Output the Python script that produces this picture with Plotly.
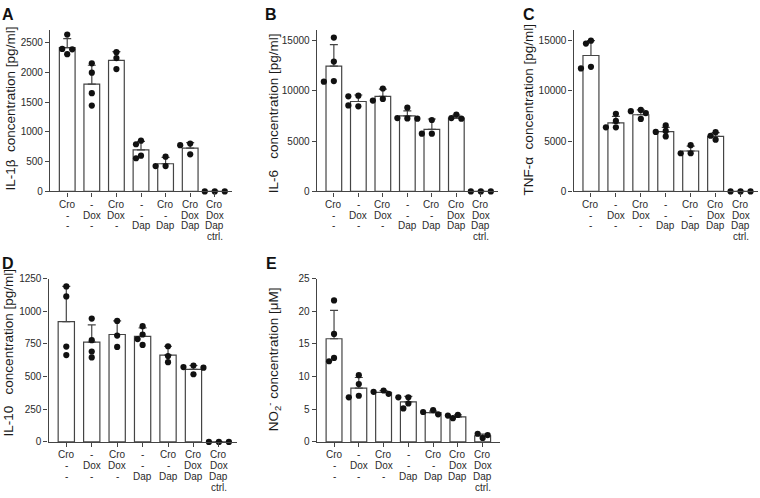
import plotly.graph_objects as go

# ---------------- data ----------------
CAT_LINE1 = ["Cro", "-", "Cro", "-", "Cro", "Cro", "Cro"]
CAT_LINE2 = ["-", "Dox", "Dox", "-", "-", "Dox", "Dox"]
CAT_LINE3 = ["-", "-", "-", "Dap", "Dap", "Dap", "Dap"]
CAT_LINE4 = ["", "", "", "", "", "", "ctrl."]

IL1B_MEAN = [2418, 1805, 2204, 700, 465, 727, 0]
IL1B_SD = [153, 317, 148, 142, 109, 93, 0]
IL1B_POINTS = [[2637, 2308, 2396, 2390], [2155, 1997, 1652, 1444], [2341, 2243, 2057],
               [853, 793, 602, 558], [585, 427, 427], [804, 777, 624], [0, 0, 0]]

IL6_MEAN = [12452, 8935, 9452, 7516, 6161, 7290, 0]
IL6_SD = [2129, 646, 709, 484, 1033, 291, 0]
IL6_POINTS = [[15290, 12903, 10968, 10903], [9516, 9452, 8452, 8548], [10226, 9194, 9032],
              [8323, 7258, 7290, 7226], [7097, 5742, 5742], [7645, 7290, 7226], [0, 0, 0]]

TNF_MEAN = [13505, 6817, 7621, 5949, 4019, 5466, 0]
TNF_SD = [1479, 643, 482, 418, 483, 386, 0]
TNF_POINTS = [[14984, 14695, 12379, 12219], [7717, 7010, 6367, 6367], [8103, 7974, 7781, 7203],
              [6560, 6013, 5916, 5466], [4598, 3794, 3794], [5884, 5531, 5145], [0, 0, 0]]

IL10_MEAN = [921, 764, 822, 807, 665, 555, 0]
IL10_SD = [269, 132, 104, 65, 67, 30, 0]
IL10_POINTS = [[1190, 1113, 730, 665], [944, 779, 692, 647], [926, 814, 727],
               [886, 822, 787, 742], [732, 657, 610], [585, 573, 568, 518], [0, 0, 0]]

NO2_MEAN = [15.79, 8.22, 7.57, 6.13, 4.48, 3.83, 0.95]
NO2_SD = [4.33, 1.64, 0.30, 0.84, 0.25, 0.30, 0.25]
NO2_POINTS = [[21.66, 16.53, 12.85, 12.35], [10.21, 8.86, 7.07, 6.82], [7.87, 7.67, 7.37],
              [6.82, 6.82, 5.88, 5.13], [4.88, 4.58, 4.23], [4.13, 4.03, 3.64], [0.60, 1.25, 1.05]]

Y_TICKS_A = [0, 500, 1000, 1500, 2000, 2500]
Y_TICKS_B = [0, 5000, 10000, 15000]
Y_TICKS_C = [0, 5000, 10000, 15000]
Y_TICKS_D = [0, 250, 500, 750, 1000, 1250]
Y_TICKS_E = [0, 5, 10, 15, 20, 25]

NB = "\u00a0"
TITLES = ["IL-1β" + NB * 2 + "concentration [pg/ml]",
          "IL-6" + NB * 3 + "concentration [pg/ml]",
          "TNF-α" + NB * 2 + "concentration [pg/ml]",
          "IL-10" + NB * 3 + "concentration [pg/ml]",
          "NO<sub>2</sub><sup>-</sup> concentration [μM]"]
LETTERS = ["A", "B", "C", "D", "E"]

# ---------------- layout geometry ----------------
W, H = 760, 498
FONT = "Liberation Sans, Arial, sans-serif"
AX_COL = "#444444"
TXT_COL = "#2a2a2a"

panels = [
    dict(mean=IL1B_MEAN, sd=IL1B_SD, pts=IL1B_POINTS, ticks=Y_TICKS_A, ymax=2708,
         xpx=(50, 232), ypx=(25, 190), title_c=(10, 105), letter=(8, 9)),
    dict(mean=IL6_MEAN, sd=IL6_SD, pts=IL6_POINTS, ticks=Y_TICKS_B, ymax=16000,
         xpx=(316.7, 498), ypx=(25, 190), title_c=(273, 110), letter=(271, 9)),
    dict(mean=TNF_MEAN, sd=TNF_SD, pts=TNF_POINTS, ticks=Y_TICKS_C, ymax=16000,
         xpx=(573.5, 758), ypx=(25, 190), title_c=(528, 107), letter=(529, 9)),
    dict(mean=IL10_MEAN, sd=IL10_SD, pts=IL10_POINTS, ticks=Y_TICKS_D, ymax=1250,
         xpx=(48.5, 236.7), ypx=(279.3, 446.7), title_c=(8, 356), letter=(8, 264)),
    dict(mean=NO2_MEAN, sd=NO2_SD, pts=NO2_POINTS, ticks=Y_TICKS_E, ymax=25,
         xpx=(316.7, 500), ypx=(279.3, 446.7), title_c=(274, 362), letter=(271, 264)),
]

XR = (-0.7, 6.7)


def beeswarm(values, px_per_unit, px_per_cat, d=5.6, s=5.0):
    placed, offs = [], []
    for v in values:
        yp = v * px_per_unit
        xp = 0.0
        for k in [0, -1, 1, -2, 2, -3, 3]:
            xp = k * s
            if all((xp - a) ** 2 + (yp - b) ** 2 >= d * d - 1e-6 for a, b in placed):
                break
        placed.append((xp, yp))
        offs.append(xp / px_per_cat)
    return offs


fig = go.Figure()
annotations = []
layout = {}

for i, p in enumerate(panels):
    n = i + 1
    xa = "x" if n == 1 else f"x{n}"
    ya = "y" if n == 1 else f"y{n}"
    xkey = "xaxis" if n == 1 else f"xaxis{n}"
    ykey = "yaxis" if n == 1 else f"yaxis{n}"
    x0, x1 = p["xpx"]
    yt, yb = p["ypx"]
    layout[xkey] = dict(domain=[x0 / W, x1 / W], range=list(XR), anchor=ya,
                        showgrid=False, zeroline=False, showline=True, linecolor=AX_COL,
                        linewidth=1.2, ticks="outside", ticklen=4, tickwidth=1.2,
                        tickcolor=AX_COL, tickvals=list(range(7)), showticklabels=False,
                        fixedrange=True)
    layout[ykey] = dict(domain=[1 - yb / H, 1 - yt / H], range=[0, p["ymax"]], anchor=xa,
                        showgrid=False, zeroline=False, showline=True, linecolor=AX_COL,
                        linewidth=1.2, ticks="outside", ticklen=4, tickwidth=1.2,
                        tickcolor=AX_COL, tickvals=p["ticks"], tickformat="d",
                        tickfont=dict(family=FONT, size=10, color=TXT_COL),
                        fixedrange=True)

    cats = list(range(7))
    fig.add_trace(go.Bar(
        x=cats, y=p["mean"], xaxis=xa, yaxis=ya, width=0.64,
        marker=dict(color="white", line=dict(color=AX_COL, width=1.2)),
        error_y=dict(type="data", array=p["sd"], arrayminus=[0] * 7, symmetric=False,
                     color=AX_COL, thickness=1.2, width=4),
        showlegend=False, hoverinfo="skip"))

    px_per_unit = (yb - yt) / p["ymax"]
    px_per_cat = (x1 - x0) / (XR[1] - XR[0])
    xs, ys = [], []
    for c, vals in enumerate(p["pts"]):
        offs = beeswarm(vals, px_per_unit, px_per_cat)
        for o, v in zip(offs, vals):
            xs.append(c + o)
            ys.append(v)
    fig.add_trace(go.Scatter(
        x=xs, y=ys, xaxis=xa, yaxis=ya, mode="markers", cliponaxis=False,
        marker=dict(color="#111111", size=6.2, line=dict(width=0)),
        showlegend=False, hoverinfo="skip"))

    # category labels (4 stacked lines)
    for c in cats:
        for k, line in enumerate([CAT_LINE1[c], CAT_LINE2[c], CAT_LINE3[c], CAT_LINE4[c]]):
            if not line:
                continue
            annotations.append(dict(
                x=c, y=0, xref=xa, yref=f"{ya} domain", text=line, showarrow=False,
                xanchor="center", yanchor="middle", yshift=-(13 + 10.7 * k),
                font=dict(family=FONT, size=10, color=TXT_COL)))

    # y title
    tx, ty = p["title_c"]
    annotations.append(dict(
        x=tx / W, y=1 - ty / H, xref="paper", yref="paper", text=TITLES[i],
        showarrow=False, textangle=-90, xanchor="center", yanchor="middle",
        font=dict(family=FONT, size=13.5, color="#1a1a1a")))

    # panel letter
    lx, ly = p["letter"]
    annotations.append(dict(
        x=lx / W, y=1 - ly / H, xref="paper", yref="paper", text=f"<b>{LETTERS[i]}</b>",
        showarrow=False, xanchor="center", yanchor="middle",
        font=dict(family=FONT, size=16, color="#111111")))

fig.update_layout(
    width=W, height=H, margin=dict(l=0, r=0, t=0, b=0),
    paper_bgcolor="white", plot_bgcolor="white",
    annotations=annotations, bargap=0.36, **layout)

fig.write_html("out.html", include_plotlyjs=True, config={"displayModeBar": False},
               post_script="document.body.style.margin='0';document.body.style.overflow='hidden';")
